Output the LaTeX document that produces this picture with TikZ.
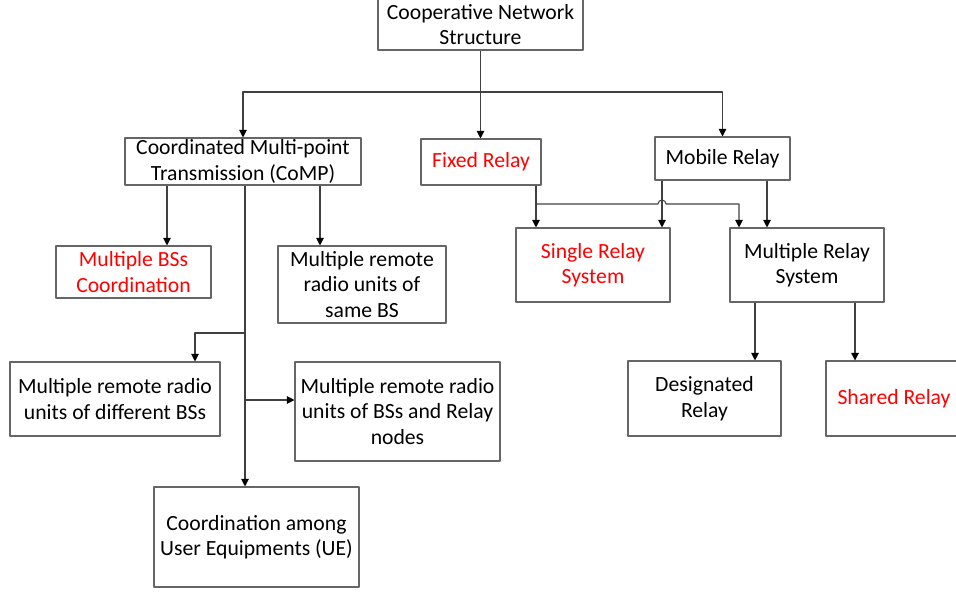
\documentclass[tikz,border=0pt]{standalone}
\usepackage{fontspec}
\setmainfont{Carlito}
\usetikzlibrary{arrows.meta}
\begin{document}
\begin{tikzpicture}[x=0.03cm,y=-0.03cm,>={Triangle[length=6.5pt,width=6.5pt,color=black]},line join=round,
	font=\fontsize{18.5}{21.8}\selectfont,
	box/.style 2 args={draw=black!60,line width=0.9pt,align=center,inner sep=0pt,
		minimum width=#1*0.03cm,minimum height=#2*0.03cm},
	hot/.style={text=red},
	link/.style={draw=black!75,line width=0.9pt}]
	\useasboundingbox (0,0) rectangle (956,592);
	% Các khối
	\node[box={205}{51}] (top) at (480.5,24.5) {Cooperative Network\\Structure};
	\node[box={236}{47}] (comp) at (243,161.5) {Coordinated Multi-point\\Transmission (CoMP)};
	\node[box={120}{46},hot] (fixed) at (481,162) {Fixed Relay};
	\node[box={135}{43}] (mobile) at (722.5,158.5) {Mobile Relay};
	\node[box={155}{52},hot] (bss) at (133.5,272) {Multiple BSs\\Coordination};
	\node[box={168}{77}] (same) at (362,284.5) {Multiple remote\\radio units of\\same BS};
	\node[box={154}{74},hot] (single) at (593,265) {Single Relay\\System};
	\node[box={154}{74}] (multi) at (807,265) {Multiple Relay\\System};
	\node[box={210}{74}] (diff) at (115,399) {Multiple remote radio\\units of different BSs};
	\node[box={205}{99}] (relnodes) at (397.5,411.5) {Multiple remote radio\\units of BSs and Relay\\nodes};
	\node[box={153}{75}] (desig) at (704.5,398.5) {Designated\\Relay};
	\node[box={136}{75},hot] (shared) at (894,398.5) {Shared Relay};
	\node[box={205}{100}] (ue) at (256.5,537) {Coordination among\\User Equipments (UE)};
	% Điểm phụ
	\coordinate (bus) at (480.5,92);
	\coordinate (xa) at (167,0); \coordinate (xb) at (320,0);
	\coordinate (xc) at (245,0); \coordinate (xd) at (195,0);
	\coordinate (ja) at (245,333); \coordinate (jb) at (245,400);
	\coordinate (xe) at (536,0); \coordinate (xf) at (662,0);
	\coordinate (xg) at (739,0); \coordinate (xh) at (767,0);
	\coordinate (xi) at (755,0); \coordinate (xj) at (855,0);
	\coordinate (yf) at (0,204);
	% Mũi tên
	\draw[link,->] (top.south) -- (top.south |- fixed.north);
	\draw[link,->] (bus) -| (comp.north);
	\draw[link,->] (bus) -| (mobile.north);
	\draw[link,->] (comp.south -| xa) -- (bss.north -| xa);
	\draw[link,->] (comp.south -| xb) -- (same.north -| xb);
	\draw[link,->] (comp.south -| xc) -- (ue.north -| xc);
	\draw[link,->] (ja) -| (diff.north -| xd);
	\draw[link,->] (jb) -- (relnodes.west |- jb);
	\draw[link,->] (fixed.south -| xe) -- (single.north -| xe);
	\draw[link,->] (xe |- yf) -- ++(122,0) arc (180:360:4) -- (xg |- yf) -- (multi.north -| xg);
	\draw[link,->] (mobile.south -| xf) -- (single.north -| xf);
	\draw[link,->] (mobile.south -| xh) -- (multi.north -| xh);
	\draw[link,->] (multi.south -| xi) -- (desig.north -| xi);
	\draw[link,->] (multi.south -| xj) -- (shared.north -| xj);
\end{tikzpicture}
\end{document}
